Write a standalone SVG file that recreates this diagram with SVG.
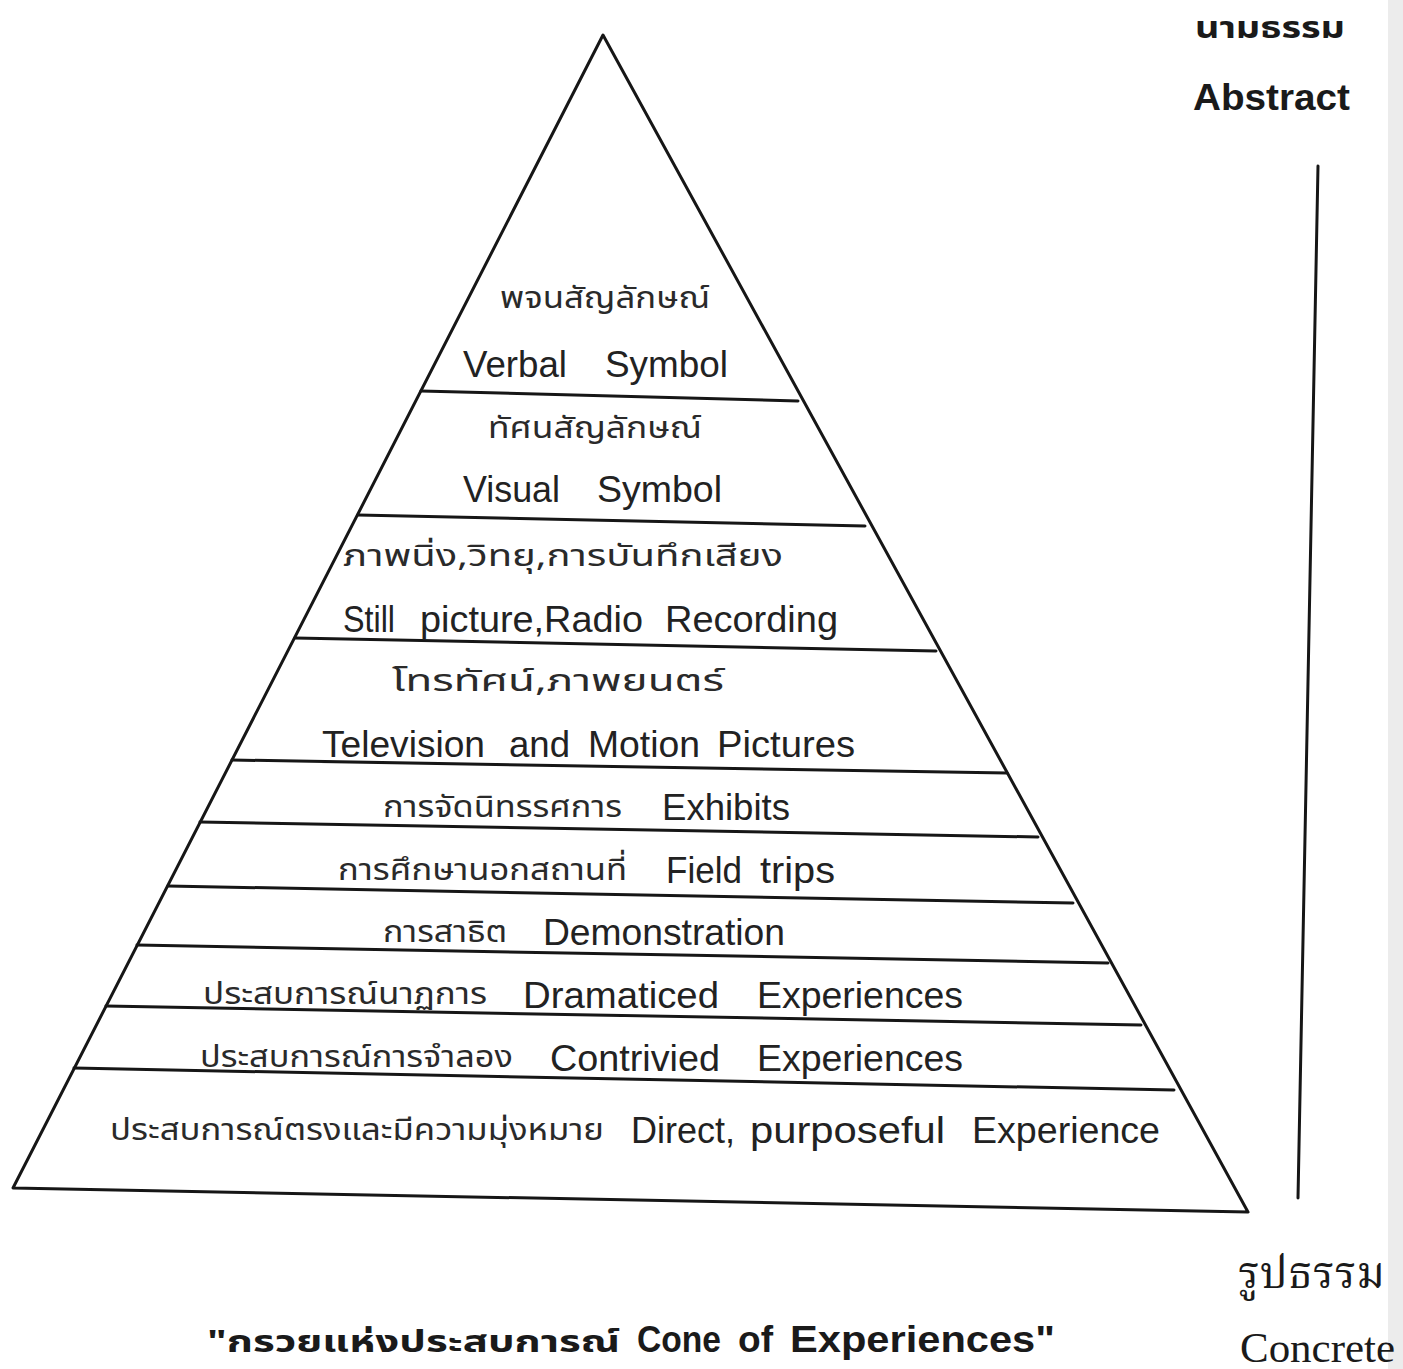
<svg xmlns="http://www.w3.org/2000/svg" width="1403" height="1369" viewBox="0 0 1403 1369">
<style>
.ln{stroke:#161616;stroke-width:3;fill:none;stroke-linecap:round;stroke-linejoin:round}
.en{font-family:"Liberation Sans",Arial,sans-serif;font-size:36px;fill:#222}
.th{font-family:"Noto Sans Thai","Noto Sans","DejaVu Sans",sans-serif;font-size:30px;fill:#2a2a2a}
.bold{font-weight:bold;fill:#1a1a1a}
.serif{font-family:"Liberation Serif","Noto Serif Thai","DejaVu Serif",serif;fill:#1a1a1a}
</style>
<rect width="1403" height="1369" fill="#ffffff"/>
<rect x="1388" y="0" width="15" height="1369" fill="#ececec"/>

<g id="cone-outline">
<path class="ln" d="M13,1188 L603,35 L1248,1212 Z"/>
</g>

<g id="connectors">
<line class="ln" x1="421" y1="391" x2="798" y2="401"/>
<line class="ln" x1="358" y1="515" x2="865" y2="526"/>
<line class="ln" x1="295" y1="638" x2="936" y2="651"/>
<line class="ln" x1="232" y1="760" x2="1007" y2="773"/>
<line class="ln" x1="200" y1="822" x2="1038" y2="837"/>
<line class="ln" x1="168" y1="886" x2="1073" y2="903"/>
<line class="ln" x1="137" y1="945" x2="1108" y2="963"/>
<line class="ln" x1="106" y1="1006" x2="1141" y2="1025"/>
<line class="ln" x1="74" y1="1068" x2="1174" y2="1090"/>
<line class="ln" x1="1318" y1="166" x2="1298" y2="1198"/>
</g>

<g id="verbal-symbol">
<text class="th" x="500" y="308" textLength="210" lengthAdjust="spacingAndGlyphs">พจนสัญลักษณ์</text>
<text class="en" x="463" y="377" textLength="104" lengthAdjust="spacingAndGlyphs">Verbal</text>
<text class="en" x="605" y="377" textLength="123" lengthAdjust="spacingAndGlyphs">Symbol</text>
</g>

<g id="visual-symbol">
<text class="th" x="488" y="438" textLength="214" lengthAdjust="spacingAndGlyphs">ทัศนสัญลักษณ์</text>
<text class="en" x="463" y="502" textLength="97" lengthAdjust="spacingAndGlyphs">Visual</text>
<text class="en" x="597" y="502" textLength="125" lengthAdjust="spacingAndGlyphs">Symbol</text>
</g>

<g id="still-picture">
<text class="th" x="343" y="566" textLength="440" lengthAdjust="spacingAndGlyphs">ภาพนิ่ง,วิทยุ,การบันทึกเสียง</text>
<text class="en" x="343" y="632" textLength="52" lengthAdjust="spacingAndGlyphs">Still</text>
<text class="en" x="420" y="632" textLength="223" lengthAdjust="spacingAndGlyphs">picture,Radio</text>
<text class="en" x="665" y="632" textLength="173" lengthAdjust="spacingAndGlyphs">Recording</text>
</g>

<g id="television">
<text class="th" x="392" y="691" textLength="332" lengthAdjust="spacingAndGlyphs">โทรทัศน์,ภาพยนตร์</text>
<text class="en" x="322" y="757" textLength="163" lengthAdjust="spacingAndGlyphs">Television</text>
<text class="en" x="509" y="757" textLength="61" lengthAdjust="spacingAndGlyphs">and</text>
<text class="en" x="588" y="757" textLength="112" lengthAdjust="spacingAndGlyphs">Motion</text>
<text class="en" x="717" y="757" textLength="138" lengthAdjust="spacingAndGlyphs">Pictures</text>
</g>

<g id="exhibits">
<text class="th" x="383" y="817" textLength="239" lengthAdjust="spacingAndGlyphs">การจัดนิทรรศการ</text>
<text class="en" x="662" y="820" textLength="128" lengthAdjust="spacingAndGlyphs">Exhibits</text>
</g>

<g id="field-trips">
<text class="th" x="338" y="880" textLength="289" lengthAdjust="spacingAndGlyphs">การศึกษานอกสถานที่</text>
<text class="en" x="666" y="883" textLength="76" lengthAdjust="spacingAndGlyphs">Field</text>
<text class="en" x="760" y="883" textLength="75" lengthAdjust="spacingAndGlyphs">trips</text>
</g>

<g id="demonstration">
<text class="th" x="383" y="942" textLength="124" lengthAdjust="spacingAndGlyphs">การสาธิต</text>
<text class="en" x="543" y="945" textLength="242" lengthAdjust="spacingAndGlyphs">Demonstration</text>
</g>

<g id="dramatized">
<text class="th" x="203" y="1004" textLength="284" lengthAdjust="spacingAndGlyphs">ประสบการณ์นาฏการ</text>
<text class="en" x="523" y="1008" textLength="196" lengthAdjust="spacingAndGlyphs">Dramaticed</text>
<text class="en" x="757" y="1008" textLength="206" lengthAdjust="spacingAndGlyphs">Experiences</text>
</g>

<g id="contrived">
<text class="th" x="200" y="1067" textLength="313" lengthAdjust="spacingAndGlyphs">ประสบการณ์การจำลอง</text>
<text class="en" x="550" y="1071" textLength="170" lengthAdjust="spacingAndGlyphs">Contrivied</text>
<text class="en" x="757" y="1071" textLength="206" lengthAdjust="spacingAndGlyphs">Experiences</text>
</g>

<g id="direct">
<text class="th" x="110" y="1140" textLength="494" lengthAdjust="spacingAndGlyphs">ประสบการณ์ตรงและมีความมุ่งหมาย</text>
<text class="en" x="631" y="1143" textLength="104" lengthAdjust="spacingAndGlyphs">Direct,</text>
<text class="en" x="750" y="1143" textLength="195" lengthAdjust="spacingAndGlyphs">purposeful</text>
<text class="en" x="972" y="1143" textLength="188" lengthAdjust="spacingAndGlyphs">Experience</text>
</g>

<g id="abstract-label">
<text class="th bold" x="1195" y="38" font-size="34" textLength="150" lengthAdjust="spacingAndGlyphs">นามธรรม</text>
<text class="en bold" x="1193" y="110" font-size="37" textLength="157" lengthAdjust="spacingAndGlyphs">Abstract</text>
</g>

<g id="concrete-label">
<text class="serif" x="1238" y="1288" font-size="44" textLength="147" lengthAdjust="spacingAndGlyphs">รูปธรรม</text>
<text class="serif" x="1240" y="1362" font-size="43" textLength="155" lengthAdjust="spacingAndGlyphs">Concrete</text>
</g>

<g id="title">
<text class="th bold" x="207" y="1352" font-size="34" textLength="413" lengthAdjust="spacingAndGlyphs">"กรวยแห่งประสบการณ์</text>
<text class="en bold" x="637" y="1352" font-size="35" textLength="84" lengthAdjust="spacingAndGlyphs">Cone</text>
<text class="en bold" x="738" y="1352" font-size="35" textLength="35" lengthAdjust="spacingAndGlyphs">of</text>
<text class="en bold" x="790" y="1352" font-size="35" textLength="265" lengthAdjust="spacingAndGlyphs">Experiences"</text>
</g>
</svg>
